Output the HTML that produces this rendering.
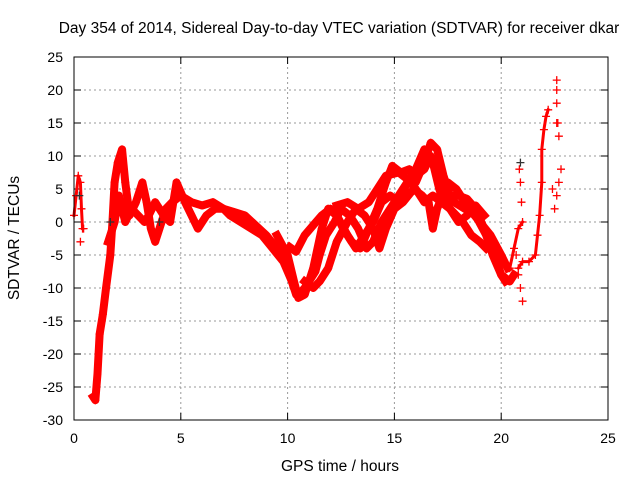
<!DOCTYPE html>
<html><head><meta charset="utf-8"><style>
body{margin:0;background:#fff}
svg{display:block;font-family:"Liberation Sans",sans-serif}
</style></head><body>
<svg id="chart" width="640" height="480">
<rect width="640" height="480" fill="#fff"/>
<text x="339" y="33" font-size="15.5" text-anchor="middle">Day 354 of 2014, Sidereal Day-to-day VTEC variation (SDTVAR) for receiver dkar</text>
<text x="340" y="471" font-size="15.5" text-anchor="middle">GPS time / hours</text>
<text transform="translate(19,238) rotate(-90)" font-size="15.5" text-anchor="middle">SDTVAR / TECUs</text>
<g id="grid"></g><g id="ticks"></g><g id="marks"></g>
<rect x="74" y="57" width="534" height="363" fill="none" stroke="#000" stroke-width="1"/>
</svg>
<script>
const xTicks=[0,5,10,15,20,25];
const yTicks=[25,20,15,10,5,0,-5,-10,-15,-20,-25,-30];
const trackA=[[0.0,1],[0.1,4],[0.2,7],[0.3,6],[0.35,2],[0.4,-1]];
const trackB=[[0.9,-26.5],[1.0,-27],[1.1,-23],[1.2,-17],[1.35,-14],[1.5,-10],[1.7,-5],[1.8,0],[1.9,6],[2.05,9],[2.25,11],[2.4,6],[2.6,1],[2.9,3],[3.2,6],[3.4,3],[3.6,-1],[3.8,-3],[4.0,-1],[4.3,2],[4.6,3],[5.0,4],[5.5,3],[6.0,2.5],[6.5,3],[7.0,2],[7.5,1.5],[8.0,1],[8.5,-0.5],[9.0,-2],[9.5,-4],[10.0,-7],[10.3,-10],[10.5,-11],[10.8,-10]];
const trackC=[[1.6,-3],[1.9,0],[2.1,4],[2.4,0],[2.7,2],[3.0,1],[3.3,0],[3.5,1],[3.8,3],[4.2,1],[4.5,0],[4.8,6],[5.2,3],[5.5,1],[5.8,-1],[6.2,1],[6.6,2],[7.0,2],[7.3,1],[7.8,0],[8.3,-1],[8.8,-2],[9.3,-4],[9.8,-6],[10.2,-9],[10.4,-11],[10.6,-11],[11.0,-9],[11.3,-7.5],[11.5,-5],[11.8,-2],[12.2,0],[12.5,2],[12.9,1],[13.3,-1],[13.7,-4],[14.0,-3],[14.4,0],[14.8,2],[15.2,4],[15.6,6],[16.0,7],[16.4,8],[16.7,10],[17.0,7],[17.4,4],[17.8,3],[18.3,2],[18.8,1],[19.3,-2],[19.7,-5],[20.0,-8],[20.2,-9]];
const trackM1=[[9.5,-2],[10.0,-5],[10.3,-9],[10.5,-11.5],[10.8,-11],[11.2,-7],[11.6,-1],[11.9,2],[12.3,1],[12.6,-1],[13.0,-3],[13.4,-4],[13.8,-1],[14.2,2],[14.6,6],[14.9,8.5],[15.3,7.5],[15.7,8],[16.0,6],[16.4,9],[16.7,12],[17.0,11],[17.3,7],[17.6,4],[18.0,4],[18.4,3.5],[18.8,2],[19.2,-1],[19.6,-5],[20.0,-8],[20.4,-9],[20.6,-8]];
const trackM2=[[10.1,-3.8],[10.4,-4.5],[10.8,-2],[11.2,-0.5],[11.6,1],[12.0,2],[12.3,1],[12.8,-2],[13.2,-4],[13.6,-2],[14.0,0],[14.4,3],[14.8,4],[15.2,3],[15.6,6],[16.0,8],[16.4,11],[16.8,9],[17.1,5],[17.3,3],[17.6,2],[18.0,0],[18.4,1],[18.8,2.5],[19.2,1]];
const trackM3=[[10.8,-9],[11.2,-10],[11.5,-9],[11.7,-8],[11.9,-7],[12.3,-3],[12.8,0],[13.2,2],[13.6,1],[14.0,-1],[14.3,-4],[14.6,-1],[15.0,2],[15.4,3],[15.9,5],[16.3,4],[16.6,3],[16.8,-1],[17.0,2],[17.5,6],[17.9,5],[18.5,2],[19.0,0],[19.5,-2],[20.0,-5],[20.3,-7]];
const trackM4=[[12.3,2.5],[12.8,3],[13.3,2],[13.8,3],[14.2,5],[14.6,7],[15.2,7.5],[15.6,6.5],[16.0,5],[16.4,3],[16.8,4],[17.2,3],[17.6,2],[18.2,0],[18.6,-2],[19.0,-3],[19.3,-4]];
const trackE1=[[20.4,-7],[20.6,-4],[20.8,-1],[21.0,0]];
const trackE2=[[20.8,-7],[21.0,-6],[21.3,-6],[21.6,-5],[21.7,-2],[21.8,1],[21.9,6],[21.9,11],[22.0,14],[22.1,16],[22.2,17]];
const sparseE=[[20.7,-5],[20.8,-8],[20.9,-10],[21.0,-12],[20.9,6],[20.85,8],[20.95,3],[22.4,5],[22.5,2],[22.6,4],[22.7,6],[22.8,8],[22.6,21.5],[22.6,20],[22.6,18],[22.65,15],[22.7,13],[22.6,15],[0.45,-1],[0.3,-3]];
const blackPts=[[20.9,9],[1.7,0],[0.25,4],[4.0,0]];
const NS="http://www.w3.org/2000/svg";
const X=v=>74+v*534/25, Y=v=>57+(25-v)*363/55;
function mk(tag,attrs,parent){const e=document.createElementNS(NS,tag);for(const k in attrs)e.setAttribute(k,attrs[k]);parent.appendChild(e);return e;}
const grid=document.getElementById('grid'),ticks=document.getElementById('ticks'),marks=document.getElementById('marks');
xTicks.forEach(t=>{const x=X(t);
 if(t>0&&t<25){const l=mk('line',{x1:x,x2:x,y1:57,y2:420,stroke:'#999','stroke-dasharray':'2,3'},grid);
 
 }
 mk('line',{x1:x,x2:x,y1:420,y2:413,stroke:'#000'},ticks);mk('line',{x1:x,x2:x,y1:57,y2:64,stroke:'#000'},ticks);
 const tx=mk('text',{x:x,y:443,'font-size':14,'text-anchor':'middle'},ticks);tx.textContent=t;
 
 });
yTicks.forEach(t=>{const y=Y(t);
 if(t<25&&t>-30){const l=mk('line',{x1:74,x2:608,y1:y,y2:y,stroke:'#999','stroke-dasharray':'2,3'},grid);
 
 }
 mk('line',{x1:74,x2:81,y1:y,y2:y,stroke:'#000'},ticks);mk('line',{x1:608,x2:601,y1:y,y2:y,stroke:'#000'},ticks);
 const tx=mk('text',{x:63,y:y+5,'font-size':14,'text-anchor':'end'},ticks);tx.textContent=t;
 
 });
function plus(p,col,parent){const x=X(p[0]),y=Y(p[1]);
 mk('path',{d:`M${x-4},${y}h8M${x},${y-4}v8`,stroke:col,'stroke-width':1.3,fill:'none'},parent);}
const tracks=[trackA,trackB,trackC,trackM1,trackM2,trackM3,trackM4,trackE1,trackE2];
tracks.forEach((tr,i)=>{const g=mk('g',{},marks);
 
 
 const pts=tr.map(p=>X(p[0])+','+Y(p[1])).join(' ');
 mk('polyline',{points:pts,fill:'none',stroke:'#f00','stroke-width':(i===0||i>=7)?3:8,'stroke-linejoin':'round','stroke-linecap':'square'},g);
 tr.forEach(p=>plus(p,'#f00',g));});
const gs=mk('g',{},marks);


sparseE.forEach(p=>plus(p,'#f00',gs));
const gb=mk('g',{},marks);


blackPts.forEach(p=>plus(p,'#333',gb));
</script>
</body></html>
